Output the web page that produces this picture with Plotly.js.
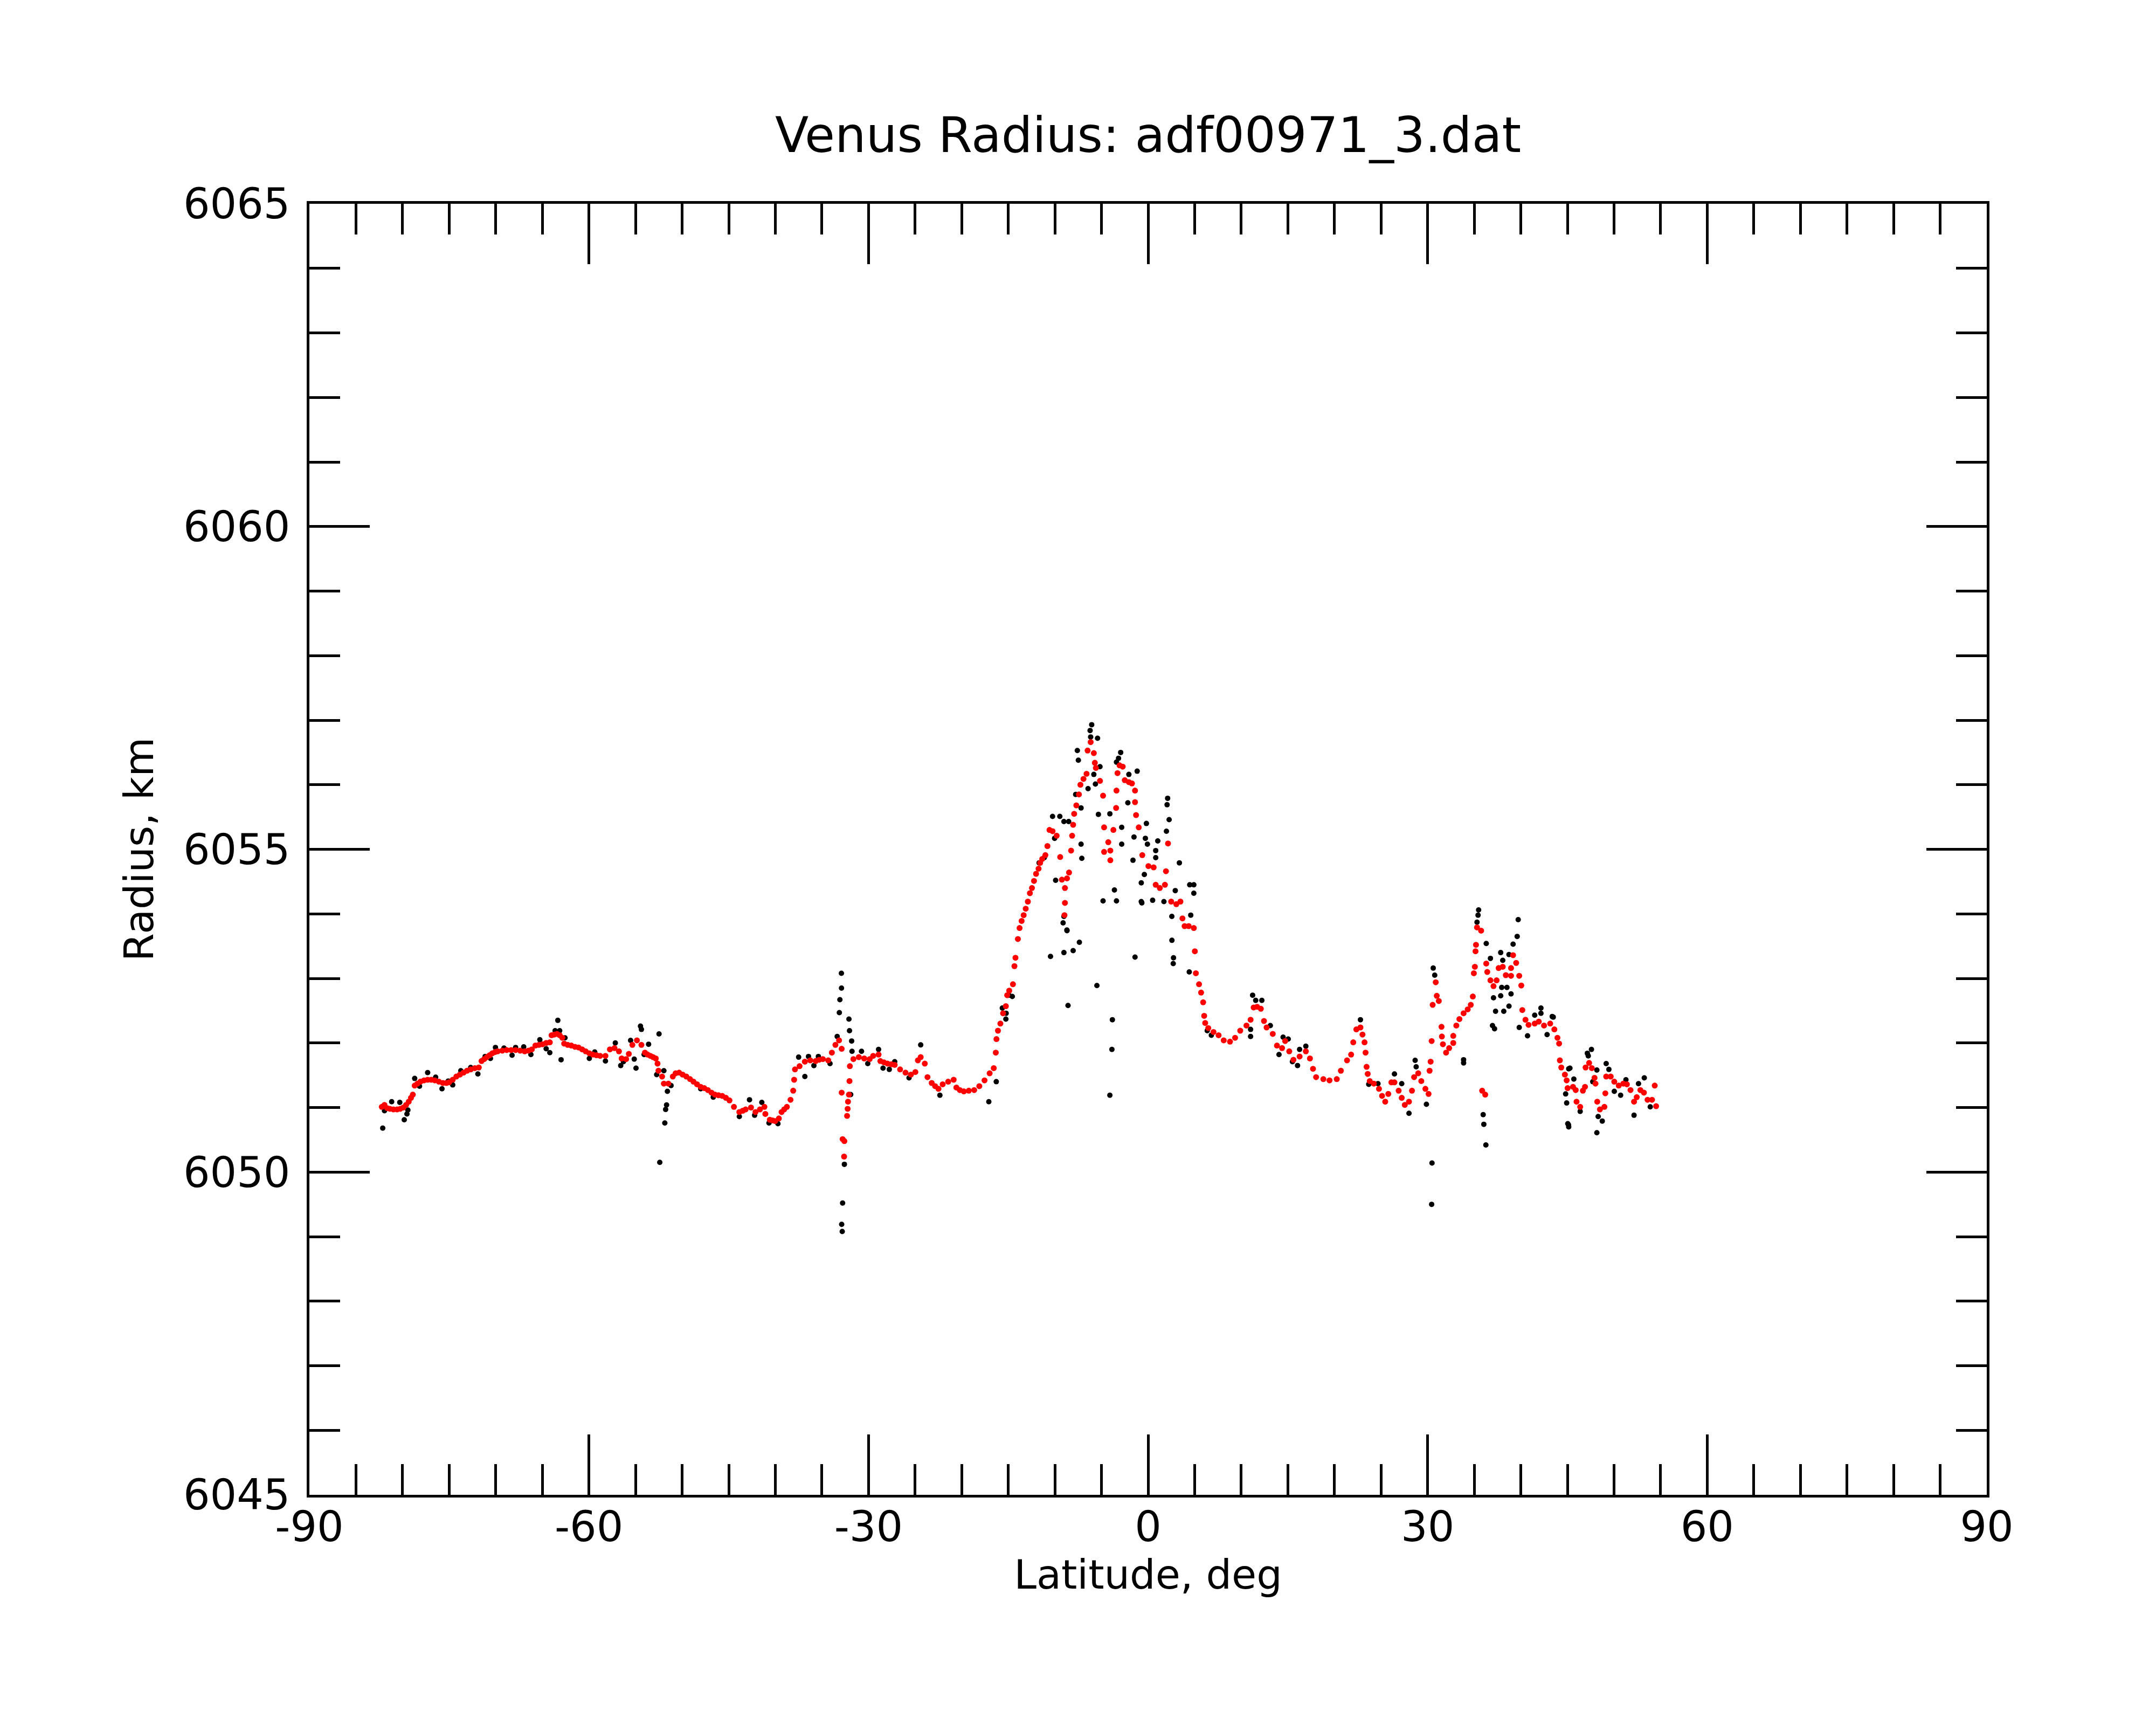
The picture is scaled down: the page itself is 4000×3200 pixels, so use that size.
<!DOCTYPE html>
<html>
<head>
<meta charset="utf-8">
<script src="https://cdn.plot.ly/plotly-3.0.1.min.js"></script>
<style>
  html, body { margin: 0; padding: 0; background: #fff; }
  #myDiv { width: 4000px; height: 3200px; }
</style>
</head>
<body>
<div id="myDiv"></div>
<script>
// values, latitude in deg, radius in km

// raw points (black)
var rawLat = [-82.13, -81.94, -81.17, -80.30, -79.82, -79.53, -79.43, -78.70, -78.18, -77.31,
  -76.45, -75.77, -75.10, -74.62, -73.75, -72.69, -71.92, -71.14, -70.57, -70.03,
  -69.12, -68.25, -67.87, -67.00, -66.23, -65.27, -64.59, -64.20, -63.63, -63.34,
  -63.14, -62.99, -62.57, -59.96, -59.38, -58.23, -57.17, -56.59, -56.30, -55.53,
  -55.14, -54.95, -54.47, -54.37, -54.08, -53.60, -52.73, -52.48, -52.40, -51.96,
  -51.86, -51.77, -51.67, -51.58, -51.19, -48.01, -46.66, -43.86, -42.77, -42.22,
  -41.45, -40.68, -39.72, -37.50, -36.83, -36.44, -35.86, -35.38, -34.13, -33.36,
  -33.13, -33.07, -32.91, -32.90, -32.88, -32.82, -32.78, -32.59, -32.10, -32.04,
  -31.91, -31.81, -31.77, -30.75, -30.08, -28.92, -28.44, -27.77, -27.19, -25.65,
  -24.40, -22.34, -17.09, -16.29, -15.64, -15.26, -15.23, -14.94, -14.57, -11.69,
  -11.14, -10.47, -10.25, -10.03, -9.92, -9.47, -9.12, -9.03, -9.03, -9.03,
  -8.71, -8.70, -8.59, -8.52, -8.04, -7.77, -7.59, -7.48, -7.37, -7.19,
  -7.19, -7.11, -6.44, -6.22, -6.16, -6.05, -5.82, -5.65, -5.49, -5.42,
  -5.33, -5.16, -4.83, -4.10, -4.10, -3.88, -3.83, -3.61, -3.39, -3.39,
  -3.17, -2.94, -2.83, -2.83, -2.17, -2.06, -1.62, -1.51, -1.40, -1.17,
  -0.73, -0.73, -0.67, -0.40, -0.29, -0.18, -0.07, 0.49, 0.82, 0.82,
  1.04, 1.70, 1.97, 2.04, 2.10, 2.26, 2.55, 2.56, 2.70, 2.73,
  2.92, 3.36, 4.42, 4.47, 4.58, 4.91, 4.91, 6.35, 6.79, 11.00,
  11.00, 11.22, 11.55, 12.21, 13.12, 14.05, 14.49, 15.04, 15.49, 16.04,
  16.26, 16.93, 22.79, 23.68, 24.67, 26.44, 27.22, 28.00, 28.66, 28.77,
  29.87, 30.43, 30.47, 30.60, 30.76, 33.86, 33.86, 35.30, 35.41, 35.47,
  35.96, 36.03, 36.25, 36.29, 36.74, 36.96, 37.07, 37.18, 37.29, 37.84,
  37.84, 37.95, 38.06, 38.17, 38.51, 38.73, 38.73, 38.95, 39.17, 39.61,
  39.72, 39.83, 40.72, 41.49, 42.16, 42.16, 42.82, 43.37, 43.48, 44.81,
  44.92, 45.04, 45.12, 45.14, 45.14, 45.27, 45.69, 46.37, 47.14, 47.24,
  47.58, 47.72, 48.16, 48.16, 48.30, 48.74, 49.16, 49.45, 50.03, 50.71,
  51.28, 52.15, 52.63, 53.25, 53.89];
var rawR = [6050.68, 6050.95, 6051.09, 6051.08, 6050.81, 6050.90, 6050.96, 6051.45, 6051.33, 6051.54,
  6051.47, 6051.29, 6051.41, 6051.35, 6051.57, 6051.62, 6051.52, 6051.79, 6051.76, 6051.93,
  6051.92, 6051.81, 6051.93, 6051.94, 6051.82, 6052.05, 6051.91, 6051.85, 6052.19, 6052.35,
  6052.19, 6051.74, 6052.08, 6051.76, 6051.86, 6051.72, 6052.00, 6051.65, 6051.71, 6052.04,
  6051.75, 6051.61, 6052.26, 6052.21, 6051.82, 6051.98, 6051.51, 6052.14, 6050.15, 6051.57,
  6050.76, 6050.97, 6051.04, 6051.25, 6051.34, 6051.29, 6051.16, 6050.86, 6051.12, 6050.88,
  6051.08, 6050.76, 6050.75, 6051.78, 6051.48, 6051.79, 6051.65, 6051.79, 6051.68, 6052.10,
  6052.47, 6052.67, 6053.08, 6052.85, 6049.19, 6049.08, 6049.52, 6050.12, 6052.37, 6052.19,
  6051.20, 6052.03, 6051.87, 6051.87, 6051.68, 6051.90, 6051.61, 6051.59, 6051.71, 6051.46,
  6051.97, 6051.19, 6051.09, 6051.40, 6052.54, 6052.37, 6052.46, 6052.74, 6052.72, 6054.79,
  6054.87, 6053.34, 6055.51, 6055.17, 6054.52, 6055.51, 6053.86, 6053.40, 6053.96, 6055.43,
  6053.75, 6053.74, 6052.58, 6055.43, 6053.43, 6055.85, 6056.53, 6056.38, 6053.56, 6055.64,
  6055.08, 6054.86, 6055.94, 6056.84, 6056.74, 6056.93, 6056.16, 6056.01, 6052.89, 6056.72,
  6055.54, 6056.28, 6054.20, 6055.55, 6051.19, 6051.90, 6052.36, 6054.37, 6056.35, 6054.20,
  6056.41, 6056.50, 6055.08, 6055.34, 6055.72, 6056.16, 6054.83, 6055.19, 6053.33, 6056.21,
  6054.48, 6054.19, 6054.17, 6054.61, 6055.17, 6055.40, 6055.08, 6054.21, 6054.98, 6054.87,
  6055.13, 6054.19, 6055.28, 6055.69, 6055.79, 6055.46, 6053.96, 6053.59, 6053.23, 6053.32,
  6054.36, 6054.79, 6053.10, 6054.45, 6053.98, 6054.45, 6054.32, 6052.19, 6052.12, 6052.21,
  6052.10, 6052.74, 6052.66, 6052.66, 6052.27, 6051.82, 6052.09, 6052.06, 6051.71, 6051.65,
  6051.90, 6051.95, 6052.36, 6051.36, 6051.37, 6051.52, 6051.37, 6050.91, 6051.73, 6051.63,
  6051.05, 6049.50, 6050.14, 6053.16, 6053.05, 6051.69, 6051.74, 6053.87, 6053.98, 6054.06,
  6050.89, 6050.74, 6050.42, 6053.54, 6053.31, 6052.27, 6052.70, 6052.22, 6052.49, 6053.40,
  6052.73, 6052.86, 6053.28, 6052.49, 6052.86, 6053.37, 6052.57, 6052.76, 6053.53, 6053.65,
  6053.91, 6052.24, 6052.11, 6052.43, 6052.54, 6052.46, 6052.13, 6052.41, 6052.40, 6051.21,
  6051.07, 6050.75, 6050.73, 6051.60, 6050.70, 6051.61, 6051.44, 6050.94, 6051.84, 6051.80,
  6051.90, 6051.40, 6051.58, 6050.61, 6050.86, 6050.79, 6051.68, 6051.59, 6051.25, 6051.19,
  6051.43, 6050.88, 6051.37, 6051.46, 6051.01];

// filtered points (red)
var fitLat = [-82.23, -81.94, -81.65, -81.36, -80.98, -80.59, -80.25, -79.92, -79.62, -79.34,
  -79.10, -78.90, -78.70, -78.40, -78.09, -77.70, -77.31, -76.92, -76.54, -76.10,
  -75.68, -75.30, -75.00, -74.62, -74.23, -73.85, -73.46, -73.08, -72.69, -72.25,
  -71.82, -71.53, -71.24, -70.95, -70.66, -70.37, -70.08, -69.80, -69.30, -68.83,
  -68.35, -67.87, -67.38, -66.90, -66.50, -66.13, -65.75, -65.37, -64.98, -64.59,
  -64.20, -64.01, -63.72, -63.43, -63.14, -62.86, -62.66, -62.28, -61.89, -61.50,
  -61.12, -60.73, -60.35, -59.96, -59.58, -59.19, -58.80, -58.23, -57.75, -57.26,
  -56.78, -56.49, -56.01, -55.72, -55.34, -54.85, -54.37, -53.99, -53.70, -53.41,
  -53.12, -52.83, -52.64, -52.54, -52.15, -51.96, -51.48, -51.00, -50.70, -50.32,
  -49.95, -49.55, -49.15, -48.78, -48.40, -48.01, -47.62, -47.24, -46.85, -46.47,
  -46.10, -45.70, -45.30, -44.92, -44.44, -43.86, -43.50, -43.19, -42.61, -42.13,
  -41.65, -41.17, -41.07, -40.59, -40.30, -40.01, -39.62, -39.33, -39.05, -38.76,
  -38.37, -38.08, -37.98, -37.89, -37.40, -36.83, -36.25, -35.67, -35.30, -34.90,
  -34.32, -33.93, -33.55, -33.16, -32.88, -32.88, -32.78, -32.62, -32.59, -32.30,
  -32.24, -32.20, -32.10, -32.04, -32.00, -31.62, -31.04, -30.46, -29.88, -29.50,
  -28.92, -28.73, -28.35, -27.96, -27.55, -27.19, -26.61, -26.03, -25.45, -24.97,
  -24.70, -24.40, -23.96, -23.67, -23.22, -22.85, -22.49, -22.04, -21.45, -20.86,
  -20.57, -20.20, -19.77, -19.24, -18.66, -18.11, -17.55, -17.00, -16.56, -16.34,
  -16.27, -16.11, -15.85, -15.56, -15.26, -15.12, -14.90, -14.50, -14.34, -14.23,
  -13.97, -13.79, -13.57, -13.35, -13.13, -12.90, -12.68, -12.46, -12.24, -12.02,
  -11.75, -11.58, -11.36, -11.02, -10.80, -10.58, -10.25, -9.81, -9.43, -9.25,
  -8.97, -8.92, -8.92, -8.70, -8.48, -8.26, -8.15, -8.04, -7.93, -7.70,
  -7.42, -7.26, -6.93, -6.60, -6.49, -6.16, -5.82, -5.71, -5.60, -5.16,
  -4.83, -4.72, -4.72, -4.27, -4.05, -4.05, -3.72, -3.43, -3.39, -3.28,
  -3.06, -2.72, -2.50, -2.06, -1.73, -1.40, -1.40, -1.29, -1.00, -0.62,
  0.04, 0.60, 0.82, 1.26, 1.81, 1.92, 2.14, 2.48, 3.03, 3.47,
  3.69, 3.92, 4.36, 4.91, 5.02, 5.13, 5.47, 5.69, 5.91, 6.02,
  6.13, 6.46, 7.02, 7.57, 8.12, 8.79, 9.34, 9.89, 10.56, 11.00,
  11.33, 11.70, 12.10, 12.44, 12.72, 13.38, 13.83, 14.38, 14.71, 15.15,
  15.60, 16.26, 16.93, 17.37, 17.70, 18.03, 18.81, 19.47, 20.25, 20.69,
  21.35, 21.79, 22.02, 22.35, 22.79, 23.01, 23.23, 23.34, 23.45, 23.57,
  23.79, 24.23, 24.78, 25.11, 25.45, 25.78, 26.11, 26.44, 26.89, 27.22,
  27.55, 28.00, 28.32, 28.55, 28.99, 29.32, 29.76, 30.10, 30.21, 30.32,
  30.43, 30.54, 30.87, 30.98, 31.20, 31.49, 31.53, 31.64, 31.98, 32.31,
  32.75, 32.75, 33.08, 33.41, 33.86, 34.30, 34.63, 34.85, 34.96, 35.07,
  35.14, 35.19, 35.30, 35.74, 35.85, 36.18, 36.29, 36.40, 36.74, 37.07,
  37.40, 37.62, 38.06, 38.39, 38.95, 38.95, 39.17, 39.50, 39.83, 40.05,
  40.16, 40.50, 40.83, 41.49, 41.93, 42.49, 43.15, 43.60, 43.93, 44.11,
  44.19, 44.34, 44.73, 44.92, 45.02, 45.60, 45.89, 45.98, 46.37, 46.66,
  46.89, 46.95, 47.33, 47.62, 47.91, 48.01, 48.20, 48.49, 48.97, 49.07,
  49.16, 49.65, 50.03, 50.51, 51.00, 51.38, 51.77, 52.15, 52.44, 52.83,
  53.21, 53.60, 54.08, 54.37, 54.52];
var fitR = [6051.01, 6051.04, 6050.99, 6050.98, 6050.97, 6050.97, 6050.98, 6051.00, 6051.04, 6051.09,
  6051.15, 6051.20, 6051.34, 6051.37, 6051.40, 6051.42, 6051.43, 6051.43, 6051.42, 6051.40,
  6051.38, 6051.38, 6051.39, 6051.43, 6051.48, 6051.51, 6051.54, 6051.57, 6051.59, 6051.61,
  6051.62, 6051.72, 6051.75, 6051.78, 6051.81, 6051.84, 6051.86, 6051.87, 6051.88, 6051.89,
  6051.89, 6051.89, 6051.88, 6051.87, 6051.88, 6051.90, 6051.96, 6051.97, 6051.98, 6052.00,
  6052.01, 6052.12, 6052.13, 6052.14, 6052.12, 6052.08, 6051.99, 6051.97, 6051.96, 6051.94,
  6051.93, 6051.90, 6051.87, 6051.84, 6051.82, 6051.81, 6051.80, 6051.80, 6051.90, 6051.92,
  6051.87, 6051.76, 6051.75, 6051.83, 6051.97, 6052.04, 6051.97, 6051.85, 6051.82, 6051.80,
  6051.78, 6051.76, 6051.68, 6051.57, 6051.48, 6051.37, 6051.37, 6051.48, 6051.53, 6051.54,
  6051.51, 6051.48, 6051.44, 6051.40, 6051.36, 6051.32, 6051.30, 6051.27, 6051.23, 6051.20,
  6051.19, 6051.18, 6051.15, 6051.11, 6051.01, 6050.93, 6050.95, 6050.97, 6051.00, 6050.93,
  6050.97, 6051.01, 6050.90, 6050.81, 6050.80, 6050.79, 6050.83, 6050.93, 6050.97, 6051.01,
  6051.12, 6051.26, 6051.43, 6051.59, 6051.64, 6051.71, 6051.73, 6051.72, 6051.74, 6051.75,
  6051.73, 6051.85, 6051.97, 6052.04, 6051.91, 6051.23, 6050.51, 6050.24, 6050.48, 6050.87,
  6050.98, 6051.09, 6051.20, 6051.41, 6051.64, 6051.75, 6051.78, 6051.76, 6051.75, 6051.80,
  6051.82, 6051.72, 6051.70, 6051.68, 6051.67, 6051.66, 6051.59, 6051.54, 6051.51, 6051.55,
  6051.73, 6051.78, 6051.68, 6051.47, 6051.38, 6051.33, 6051.29, 6051.36, 6051.40, 6051.43,
  6051.31, 6051.27, 6051.25, 6051.26, 6051.27, 6051.33, 6051.42, 6051.53, 6051.61, 6051.85,
  6052.06, 6052.19, 6052.30, 6052.46, 6052.57, 6052.74, 6052.81, 6052.91, 6053.19, 6053.32,
  6053.61, 6053.78, 6053.89, 6053.98, 6054.08, 6054.19, 6054.32, 6054.40, 6054.51, 6054.62,
  6054.70, 6054.79, 6054.85, 6054.91, 6055.05, 6055.30, 6055.28, 6055.21, 6054.88, 6054.53,
  6053.98, 6054.17, 6054.40, 6054.55, 6054.64, 6054.98, 6055.21, 6055.38, 6055.55, 6055.68,
  6055.85, 6056.00, 6056.09, 6056.17, 6056.53, 6056.66, 6056.49, 6056.34, 6056.26, 6056.06,
  6055.83, 6055.34, 6054.96, 6055.11, 6054.98, 6054.83, 6055.30, 6055.64, 6055.91, 6056.18,
  6056.30, 6056.28, 6056.07, 6056.04, 6056.02, 6055.91, 6055.73, 6055.53, 6055.34, 6054.91,
  6054.74, 6054.72, 6054.45, 6054.40, 6054.45, 6054.66, 6055.09, 6054.19, 6054.15, 6054.19,
  6053.93, 6053.81, 6053.81, 6053.78, 6053.42, 6053.08, 6052.91, 6052.78, 6052.63, 6052.42,
  6052.31, 6052.23, 6052.17, 6052.12, 6052.04, 6052.02, 6052.08, 6052.19, 6052.27, 6052.36,
  6052.55, 6052.56, 6052.53, 6052.34, 6052.24, 6052.14, 6051.96, 6051.92, 6052.03, 6051.87,
  6051.74, 6051.79, 6051.87, 6051.76, 6051.60, 6051.47, 6051.44, 6051.42, 6051.44, 6051.57,
  6051.73, 6051.82, 6052.01, 6052.21, 6052.24, 6052.13, 6052.01, 6051.85, 6051.63, 6051.52,
  6051.41, 6051.37, 6051.29, 6051.18, 6051.09, 6051.21, 6051.39, 6051.39, 6051.26, 6051.15,
  6051.04, 6051.09, 6051.26, 6051.47, 6051.53, 6051.41, 6051.29, 6051.21, 6051.57, 6051.71,
  6052.03, 6052.59, 6052.94, 6052.73, 6052.65, 6052.25, 6052.10, 6051.98, 6051.85, 6051.92,
  6052.00, 6052.11, 6052.27, 6052.37, 6052.46, 6052.52, 6052.59, 6052.72, 6053.08, 6053.18,
  6053.42, 6053.52, 6053.79, 6053.74, 6051.26, 6051.20, 6053.23, 6053.10, 6052.97, 6052.88,
  6052.97, 6053.16, 6053.18, 6053.05, 6053.04, 6053.16, 6053.36, 6053.24, 6053.04, 6052.89,
  6052.51, 6052.36, 6052.28, 6052.30, 6052.33, 6052.27, 6052.30, 6052.21, 6052.08, 6051.99,
  6051.73, 6051.62, 6051.51, 6051.42, 6051.30, 6051.32, 6051.27, 6051.09, 6051.01, 6051.26,
  6051.32, 6051.62, 6051.69, 6051.61, 6051.46, 6051.37, 6051.09, 6050.97, 6051.01, 6051.22,
  6051.48, 6051.48, 6051.40, 6051.34, 6051.37, 6051.36, 6051.27, 6051.09, 6051.16, 6051.27,
  6051.23, 6051.12, 6051.12, 6051.34, 6051.02];

var latTicks = [-90, -60, -30, 0, 30, 60, 90];
var radTicks = [6045, 6050, 6055, 6060, 6065];

var font = 'DejaVu Sans';

var raw = {
  x: rawLat,
  y: rawR,
  mode: 'markers',
  type: 'scatter',
  marker: { color: '#000000', size: 10 },
  hoverinfo: 'x+y'
};

var fit = {
  x: fitLat,
  y: fitR,
  mode: 'markers',
  type: 'scatter',
  marker: { color: '#ff0000', size: 11 },
  hoverinfo: 'x+y'
};

var axisCommon = {
  showgrid: false,
  zeroline: false,
  showline: true,
  linecolor: '#000000',
  linewidth: 5,
  mirror: 'allticks',
  ticks: 'inside',
  ticklen: 112,
  tickwidth: 5,
  tickcolor: '#000000',
  tickfont: { family: font, size: 78, color: '#000000' }
};

var layout = {
  width: 4000,
  height: 3200,
  showlegend: false,
  paper_bgcolor: '#ffffff',
  plot_bgcolor: '#ffffff',
  margin: { l: 574, r: 314, t: 378, b: 427, pad: 0 },
  title: {
    text: 'Venus Radius: adf00971_3.dat',
    font: { family: font, size: 91, color: '#000000' },
    xref: 'paper',
    x: 0.5,
    xanchor: 'center',
    yref: 'container',
    y: 1 - 250 / 3200,
    yanchor: 'middle'
  },
  xaxis: Object.assign({}, axisCommon, {
    range: [-90, 90],
    tickvals: latTicks,
    ticktext: latTicks.map(String),
    ticklabelstandoff: -13,
    minor: { dtick: 5, ticks: 'inside', ticklen: 57, tickwidth: 5, tickcolor: '#000000', showgrid: false },
    title: {
      text: 'Latitude, deg',
      font: { family: font, size: 75, color: '#000000' },
      standoff: 1
    }
  }),
  yaxis: Object.assign({}, axisCommon, {
    range: [6045, 6065],
    tickvals: radTicks,
    ticktext: radTicks.map(String),
    ticklabelstandoff: 15,
    minor: { dtick: 1, ticks: 'inside', ticklen: 57, tickwidth: 5, tickcolor: '#000000', showgrid: false },
    title: {
      text: 'Radius, km',
      font: { family: font, size: 75, color: '#000000' },
      standoff: 32
    }
  })
};

Plotly.newPlot('myDiv', [raw, fit], layout, { displayModeBar: false, staticPlot: true });
</script>
</body>
</html>
